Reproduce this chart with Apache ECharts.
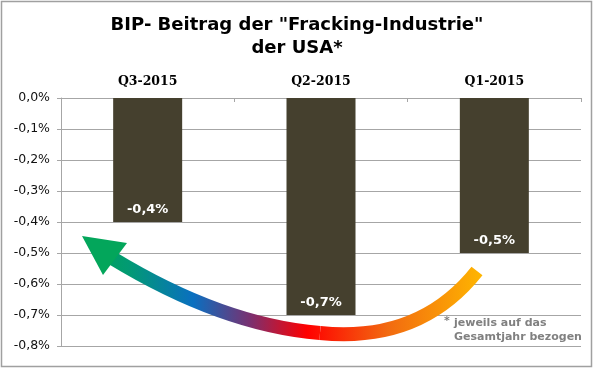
<!DOCTYPE html>
<html>
<head>
<meta charset="utf-8">
<script src="https://cdn.jsdelivr.net/npm/echarts@6/dist/echarts.min.js"></script>
<style>
html,body{margin:0;padding:0;background:#fff;}
#c{width:594px;height:369px;}
</style>
</head>
<body>
<div id="c"></div>
<script>
var categories = ['Q3-2015', 'Q2-2015', 'Q1-2015'];
var values = [-0.4, -0.7, -0.5];
var valueLabels = ['-0,4%', '-0,7%', '-0,5%'];
var titleText = 'BIP- Beitrag der "Fracking-Industrie"\nder USA*';
var footnoteStar = '*';
var footnoteText = 'jeweils auf das\nGesamtjahr bezogen';

var chart = echarts.init(document.getElementById('c'), null, {renderer: 'canvas'});
var SANS = 'Tahoma, "DejaVu Sans", Verdana, sans-serif';
var gridColor = '#a6a6a6';

function arrowGradient() {
  return new echarts.graphic.LinearGradient(80, 0, 485, 0, [
    {offset: 0, color: '#00a651'},
    {offset: 0.12, color: '#029a73'},
    {offset: 0.28, color: '#0a6fc0'},
    {offset: 0.42, color: '#7a3070'},
    {offset: 0.56, color: '#ff0000'},
    {offset: 0.76, color: '#f26a10'},
    {offset: 1, color: '#ffb800'}
  ], true);
}

var option = {
  animation: false,
  backgroundColor: '#ffffff',
  title: {
    text: titleText,
    left: 'center',
    top: 9,
    textStyle: {fontFamily: SANS, fontWeight: 'bold', fontSize: 18, lineHeight: 23, color: '#000'}
  },
  grid: {left: 61, right: 13, top: 98, bottom: 23, containLabel: false},
  xAxis: {
    type: 'category',
    position: 'top',
    data: categories,
    axisLine: {show: true, lineStyle: {color: gridColor, width: 1}},
    axisTick: {show: true, inside: true, length: 4, lineStyle: {color: gridColor}},
    axisLabel: {margin: 10, fontFamily: '"DejaVu Serif", serif', fontWeight: 'bold', fontSize: 12.5, color: '#000'}
  },
  yAxis: {
    type: 'value',
    min: -0.8,
    max: 0,
    interval: 0.1,
    axisLine: {show: true, lineStyle: {color: gridColor, width: 1}},
    axisTick: {show: true, length: 4, lineStyle: {color: gridColor}},
    splitLine: {show: true, lineStyle: {color: gridColor, width: 1}},
    axisLabel: {
      margin: 11,
      fontFamily: SANS,
      fontSize: 12.5,
      color: '#111',
      formatter: function (v) { return (Math.abs(v) < 1e-9 ? 0 : v).toFixed(1).replace('.', ',') + '%'; }
    }
  },
  series: [{
    type: 'bar',
    data: values,
    barWidth: 69,
    itemStyle: {color: '#45402e'},
    label: {
      show: true,
      position: 'insideBottom',
      distance: 6,
      color: '#fff',
      fontFamily: SANS,
      fontWeight: 'bold',
      fontSize: 13,
      formatter: function (p) { return valueLabels[p.dataIndex]; }
    }
  }],
  graphic: [
    {
      type: 'rect', silent: true, z: 100,
      shape: {x: 1.5, y: 1.5, width: 590, height: 365},
      style: {fill: 'none', stroke: '#a0a0a0', lineWidth: 1.5}
    },
    {
      type: 'bezierCurve', z: 50, silent: true,
      shape: {x1: 477, y1: 271, cpx1: 420, cpy1: 343, x2: 320, y2: 333},
      style: {fill: 'none', lineWidth: 14, lineCap: 'butt', stroke: arrowGradient()}
    },
    {
      type: 'bezierCurve', z: 50, silent: true,
      shape: {x1: 320, y1: 333, cpx1: 222, cpy1: 325, x2: 112, y2: 258},
      style: {fill: 'none', lineWidth: 14, lineCap: 'butt', stroke: arrowGradient()}
    },
    {
      type: 'polygon', z: 51, silent: true,
      shape: {points: [[82, 236], [127, 243], [103, 275]]},
      style: {fill: '#03a65b'}
    },
    {
      type: 'text', z: 60, silent: true,
      left: 444, top: 316,
      style: {text: footnoteStar, font: 'bold 11px ' + SANS, fill: '#808080'}
    },
    {
      type: 'text', z: 60, silent: true,
      left: 454, top: 316,
      style: {text: footnoteText, font: 'bold 11px ' + SANS, lineHeight: 14, fill: '#808080'}
    }
  ]
};
chart.setOption(option);
</script>
</body>
</html>
